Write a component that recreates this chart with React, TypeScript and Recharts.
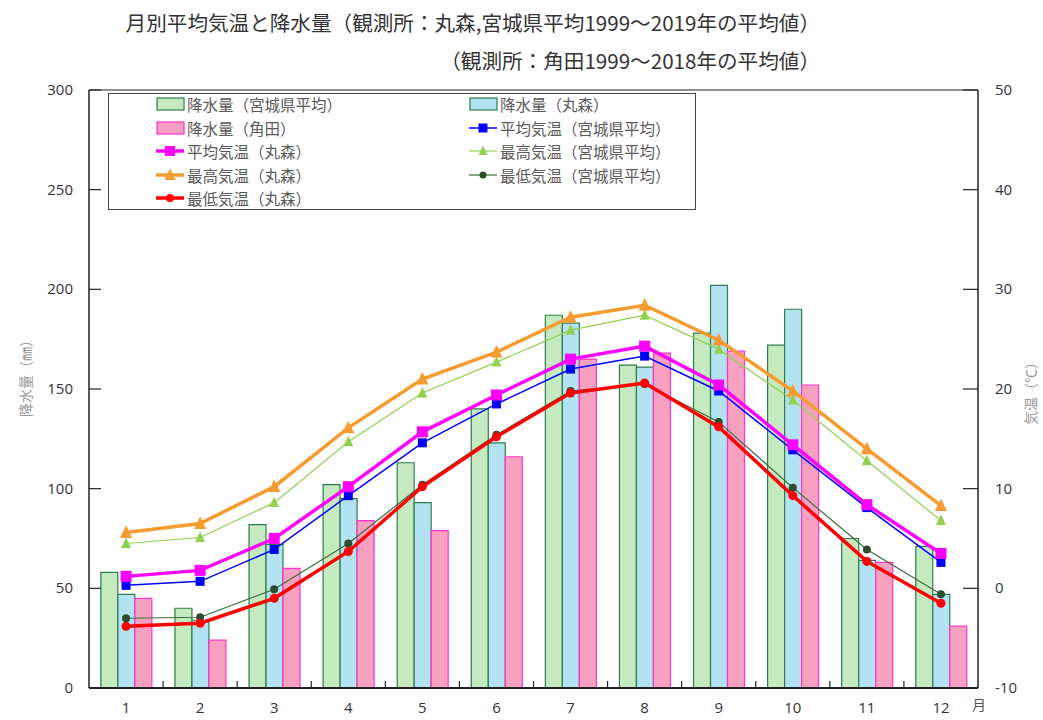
import React from "react";
import {
  ComposedChart,
  Bar,
  Line,
  XAxis,
  YAxis,
  Legend,
  ReferenceLine,
} from "recharts";

const months = ["1", "2", "3", "4", "5", "6", "7", "8", "9", "10", "11", "12"];

// 降水量 (mm)
const rainMiyagi = [58, 40, 82, 102, 113, 140, 187, 162, 178, 172, 75, 71];
const rainMarumori = [47, 34, 72, 95, 93, 123, 183, 161, 202, 190, 64, 47];
const rainKakuda = [45, 24, 60, 84, 79, 116, 165, 168, 169, 152, 63, 31];

// 気温 (℃)
const avgMiyagi = [0.3, 0.7, 3.9, 9.3, 14.6, 18.5, 22.0, 23.3, 19.8, 13.9, 8.1, 2.6];
const avgMarumori = [1.2, 1.8, 5.0, 10.2, 15.7, 19.4, 23.0, 24.3, 20.4, 14.4, 8.4, 3.5];
const maxMiyagi = [4.5, 5.1, 8.6, 14.7, 19.6, 22.7, 25.9, 27.4, 24.0, 18.9, 12.8, 6.8];
const maxMarumori = [5.6, 6.5, 10.2, 16.1, 21.0, 23.7, 27.2, 28.4, 24.9, 19.8, 14.0, 8.3];
const minMiyagi = [-3.0, -2.9, -0.1, 4.5, 10.4, 15.4, 19.8, 20.5, 16.7, 10.1, 3.9, -0.6];
const minMarumori = [-3.8, -3.5, -1.0, 3.7, 10.2, 15.2, 19.6, 20.6, 16.2, 9.3, 2.7, -1.5];

const rainTicks = [0, 50, 100, 150, 200, 250, 300];
const tempTicks = [-10, 0, 10, 20, 30, 40, 50];

const data = months.map((m, i) => ({
  month: m,
  rainMiyagi: rainMiyagi[i],
  rainMarumori: rainMarumori[i],
  rainKakuda: rainKakuda[i],
  avgMiyagi: avgMiyagi[i],
  avgMarumori: avgMarumori[i],
  maxMiyagi: maxMiyagi[i],
  maxMarumori: maxMarumori[i],
  minMiyagi: minMiyagi[i],
  minMarumori: minMarumori[i],
}));

const W = 1043;
const H = 720;
const LEFT_W = 89;
const RIGHT_W = 65;
const TOP = 90;
const X_H = 32;
const band = (W - LEFT_W - RIGHT_W) / months.length;

const C = {
  greenFill: "#c6eac0",
  greenStroke: "#2e7d4f",
  cyanFill: "#b3e3f2",
  pinkFill: "#f8a0bf",
  pinkStroke: "#ff33cc",
  blue: "#0000ff",
  magenta: "#ff00ff",
  lightGreen: "#92d050",
  orange: "#f59b2f",
  darkGreen: "#3c6e3c",
  darkGreenDot: "#2d4d2d",
  red: "#ff0000",
  axis: "#222",
  text: "#333",
};

const tickFont = { fontFamily: "'Open Sans', sans-serif", fontSize: 15, fill: C.text };

const squareDot = (size: number, color: string) => (p: any) => (
  <rect
    key={`sq-${color}-${p.index}`}
    x={p.cx - size / 2}
    y={p.cy - size / 2}
    width={size}
    height={size}
    fill={color}
  />
);

const triDot = (size: number, color: string) => (p: any) => (
  <path
    key={`tr-${color}-${p.index}`}
    d={`M${p.cx},${p.cy - size * 0.6} L${p.cx + size / 2},${p.cy + size * 0.45} L${p.cx - size / 2},${p.cy + size * 0.45} Z`}
    fill={color}
  />
);

const circleDot = (r: number, color: string) => (p: any) => (
  <circle key={`ci-${color}-${p.index}`} cx={p.cx} cy={p.cy} r={r} fill={color} />
);

const LeftTick = ({ x, y, payload }: any) => (
  <g>
    <line x1={x} x2={x + 12} y1={y} y2={y} stroke={C.axis} strokeWidth={1.2} />
    <text x={x - 16} y={y} dy={5} textAnchor="end" {...tickFont}>
      {payload.value}
    </text>
  </g>
);

const RightTick = ({ x, y, payload }: any) => (
  <g>
    <line x1={x - 15} x2={x} y1={y} y2={y} stroke={C.axis} strokeWidth={1.2} />
    <text x={x + 17} y={y} dy={5} textAnchor="start" {...tickFont}>
      {payload.value}
    </text>
  </g>
);

const BottomTick = ({ x, y, payload, index }: any) => (
  <g>
    {index < months.length - 1 && (
      <line
        x1={x + band / 2}
        x2={x + band / 2}
        y1={y}
        y2={y - 7}
        stroke={C.axis}
        strokeWidth={1.2}
      />
    )}
    <text x={x} y={y + 25} textAnchor="middle" {...tickFont}>
      {payload.value}
    </text>
  </g>
);

type LegendItem = {
  name: string;
  kind: "bar" | "square" | "tri" | "circle";
  color: string;
  stroke: string;
  width: number;
  size: number;
  col: number;
  row: number;
};

const legendItems: LegendItem[] = [
  { name: "降水量（宮城県平均）", kind: "bar", color: C.greenFill, stroke: C.greenStroke, width: 1, size: 0, col: 0, row: 0 },
  { name: "降水量（丸森）", kind: "bar", color: C.cyanFill, stroke: C.greenStroke, width: 1, size: 0, col: 1, row: 0 },
  { name: "降水量（角田）", kind: "bar", color: C.pinkFill, stroke: C.pinkStroke, width: 1, size: 0, col: 0, row: 1 },
  { name: "平均気温（宮城県平均）", kind: "square", color: C.blue, stroke: C.blue, width: 1.5, size: 9, col: 1, row: 1 },
  { name: "平均気温（丸森）", kind: "square", color: C.magenta, stroke: C.magenta, width: 3.5, size: 10, col: 0, row: 2 },
  { name: "最高気温（宮城県平均）", kind: "tri", color: C.lightGreen, stroke: C.lightGreen, width: 1.2, size: 9, col: 1, row: 2 },
  { name: "最高気温（丸森）", kind: "tri", color: C.orange, stroke: C.orange, width: 3.5, size: 11, col: 0, row: 3 },
  { name: "最低気温（宮城県平均）", kind: "circle", color: C.darkGreenDot, stroke: C.darkGreen, width: 1.2, size: 3.5, col: 1, row: 3 },
  { name: "最低気温（丸森）", kind: "circle", color: C.red, stroke: C.red, width: 3.5, size: 4, col: 0, row: 4 },
];

const LegendIcon = ({ it }: { it: LegendItem }) => {
  const cx = 15;
  const cy = 10;
  let marker: React.ReactNode = null;
  if (it.kind === "bar") {
    return (
      <svg width={30} height={20}>
        <rect x={2} y={4} width={27} height={12} fill={it.color} stroke={it.stroke} strokeWidth={1.2} />
      </svg>
    );
  }
  if (it.kind === "square") {
    marker = <rect x={cx - it.size / 2} y={cy - it.size / 2} width={it.size} height={it.size} fill={it.color} />;
  } else if (it.kind === "tri") {
    marker = (
      <path
        d={`M${cx},${cy - it.size * 0.6} L${cx + it.size / 2},${cy + it.size * 0.45} L${cx - it.size / 2},${cy + it.size * 0.45} Z`}
        fill={it.color}
      />
    );
  } else {
    marker = <circle cx={cx} cy={cy} r={it.size} fill={it.color} />;
  }
  return (
    <svg width={30} height={20}>
      <line x1={1} x2={29} y1={cy} y2={cy} stroke={it.stroke} strokeWidth={it.width} />
      {marker}
    </svg>
  );
};

const renderLegend = () => (
  <div
    style={{
      position: "relative",
      width: 586,
      height: 115,
      border: "1px solid #444",
      background: "#fff",
      fontFamily: "'Noto Sans CJK JP', sans-serif",
      fontSize: 15.5,
      color: "#5a5a5a",
    }}
  >
    {legendItems.map((it) => (
      <div
        key={it.name}
        style={{
          position: "absolute",
          left: it.col === 0 ? 46 : 359,
          top: it.row * 23.5,
          height: 20,
          lineHeight: "20px",
          display: "flex",
          alignItems: "center",
          whiteSpace: "nowrap",
        }}
      >
        <LegendIcon it={it} />
        <span style={{ marginLeft: 2 }}>{it.name}</span>
      </div>
    ))}
  </div>
);

const overlayText: React.CSSProperties = {
  position: "absolute",
  whiteSpace: "nowrap",
  fontFamily: "'Noto Sans CJK JP', sans-serif",
};

export default function App() {
  return (
    <div style={{ position: "relative", width: W, height: H, background: "#fff", overflow: "hidden" }}>
      <style>{`body{margin:0}`}</style>
      <div
        style={{
          ...overlayText,
          right: W - 820,
          top: 8,
          fontSize: 20.6,
          color: C.text,
          lineHeight: "28px",
        }}
      >
        月別平均気温と降水量（観測所：丸森,宮城県平均1999～2019年の平均値）
      </div>
      <div
        style={{
          ...overlayText,
          right: W - 820,
          top: 46,
          fontSize: 20.6,
          color: C.text,
          lineHeight: "28px",
        }}
      >
        （観測所：角田1999～2018年の平均値）
      </div>
      <ComposedChart
        width={W}
        height={H}
        data={data}
        margin={{ top: TOP, right: 0, bottom: 0, left: 0 }}
        barCategoryGap="16%"
        barGap={0}
      >
        <XAxis
          dataKey="month"
          height={X_H}
          tickLine={false}
          tickSize={0}
          tickMargin={0}
          axisLine={{ stroke: C.axis, strokeWidth: 2 }}
          tick={<BottomTick />}
          interval={0}
        />
        <YAxis
          yAxisId="left"
          orientation="left"
          width={LEFT_W}
          domain={[0, 300]}
          ticks={rainTicks}
          tickLine={false}
          tickSize={0}
          tickMargin={0}
          axisLine={{ stroke: C.axis, strokeWidth: 1.5 }}
          tick={<LeftTick />}
        />
        <YAxis
          yAxisId="right"
          orientation="right"
          width={RIGHT_W}
          domain={[-10, 50]}
          ticks={tempTicks}
          tickLine={false}
          tickSize={0}
          tickMargin={0}
          axisLine={{ stroke: C.axis, strokeWidth: 1.5 }}
          tick={<RightTick />}
        />
        <ReferenceLine yAxisId="left" y={300} stroke={C.axis} strokeWidth={1.2} />
        <Legend
          content={renderLegend}
          layout="horizontal"
          verticalAlign="middle"
          align="center"
          wrapperStyle={{ left: 108, top: 93, width: 588, height: 117 }}
        />
        <Bar yAxisId="left" dataKey="rainMiyagi" name="降水量（宮城県平均）" fill={C.greenFill} stroke={C.greenStroke} strokeWidth={1.2} isAnimationActive={false} />
        <Bar yAxisId="left" dataKey="rainMarumori" name="降水量（丸森）" fill={C.cyanFill} stroke={C.greenStroke} strokeWidth={1.2} isAnimationActive={false} />
        <Bar yAxisId="left" dataKey="rainKakuda" name="降水量（角田）" fill={C.pinkFill} stroke={C.pinkStroke} strokeWidth={1.2} isAnimationActive={false} />
        <Line yAxisId="right" dataKey="avgMiyagi" name="平均気温（宮城県平均）" stroke={C.blue} strokeWidth={1.5} dot={squareDot(9, C.blue)} activeDot={false} isAnimationActive={false} />
        <Line yAxisId="right" dataKey="avgMarumori" name="平均気温（丸森）" stroke={C.magenta} strokeWidth={3.5} dot={squareDot(11, C.magenta)} activeDot={false} isAnimationActive={false} />
        <Line yAxisId="right" dataKey="maxMiyagi" name="最高気温（宮城県平均）" stroke={C.lightGreen} strokeWidth={1.2} dot={triDot(10, C.lightGreen)} activeDot={false} isAnimationActive={false} />
        <Line yAxisId="right" dataKey="maxMarumori" name="最高気温（丸森）" stroke={C.orange} strokeWidth={3.5} dot={triDot(12, C.orange)} activeDot={false} isAnimationActive={false} />
        <Line yAxisId="right" dataKey="minMiyagi" name="最低気温（宮城県平均）" stroke={C.darkGreen} strokeWidth={1.2} dot={circleDot(4, C.darkGreenDot)} activeDot={false} isAnimationActive={false} />
        <Line yAxisId="right" dataKey="minMarumori" name="最低気温（丸森）" stroke={C.red} strokeWidth={3.5} dot={circleDot(4.5, C.red)} activeDot={false} isAnimationActive={false} />
      </ComposedChart>
      <div
        style={{
          ...overlayText,
          left: 25,
          top: 375,
          fontSize: 14,
          color: "#999",
          transform: "translate(-50%, -50%) rotate(-90deg)",
        }}
      >
        降水量（㎜）
      </div>
      <div
        style={{
          ...overlayText,
          left: 1030,
          top: 390,
          fontSize: 14,
          lineHeight: "16px",
          color: "#999",
          transform: "translate(-50%, -50%) rotate(-90deg)",
        }}
      >
        気温（℃）
      </div>
      <div
        style={{
          ...overlayText,
          left: 972,
          top: 694,
          fontSize: 14,
          color: "#555",
        }}
      >
        月
      </div>
    </div>
  );
}
